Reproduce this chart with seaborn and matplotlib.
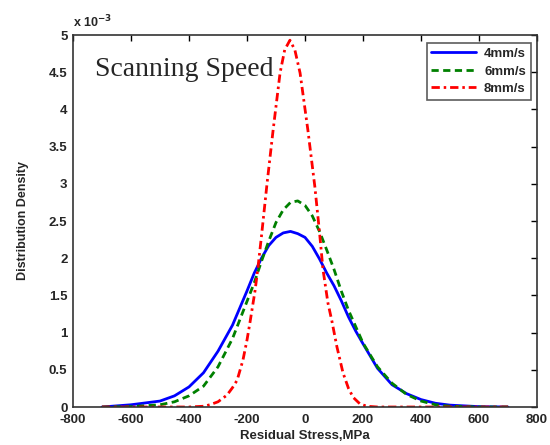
import matplotlib
matplotlib.use("Agg")
import matplotlib.pyplot as plt
import seaborn as sns
import pandas as pd

# ---- data (density values in units of 1e-3) ----
x_4 = [-700, -600, -500, -450, -400, -350, -300, -250, -200, -175, -150, -125, -100, -75, -50, -25,
       0, 25, 50, 75, 100, 125, 150, 175, 200, 250, 300, 350, 400, 450, 500, 600, 700]
y_4 = [0.0, 0.03, 0.08, 0.15, 0.27, 0.46, 0.75, 1.10, 1.56, 1.80, 2.00, 2.17, 2.28, 2.34, 2.36, 2.33,
       2.28, 2.16, 1.99, 1.80, 1.63, 1.43, 1.21, 1.02, 0.85, 0.52, 0.30, 0.18, 0.10, 0.05, 0.025, 0.005, 0.0]

x_6 = [-700, -600, -500, -450, -400, -350, -300, -250, -200, -175, -150, -125, -100, -75, -50, -25,
       0, 25, 50, 75, 100, 125, 150, 175, 200, 250, 300, 350, 400, 450, 500, 600, 700]
y_6 = [0.0, 0.005, 0.03, 0.07, 0.15, 0.28, 0.54, 0.92, 1.42, 1.67, 1.96, 2.23, 2.48, 2.65, 2.75, 2.77,
       2.71, 2.57, 2.36, 2.11, 1.85, 1.56, 1.30, 1.08, 0.86, 0.54, 0.32, 0.17, 0.08, 0.03, 0.01, 0.0, 0.0]

x_8 = [-700, -400, -350, -328, -300, -269, -250, -234, -214, -200, -190, -172, -162, -150, -131, -110,
       -86, -70, -52, -35, -17, 10, 34, 50, 62, 79, 93, 110, 131, 150, 166, 190, 214, 250, 700]
y_8 = [0.0, 0.0, 0.01, 0.03, 0.07, 0.16, 0.26, 0.36, 0.63, 0.90, 1.13, 1.57, 1.88, 2.30, 3.00, 3.72,
       4.49, 4.80, 4.93, 4.80, 4.49, 3.72, 2.96, 2.35, 1.85, 1.40, 1.15, 0.81, 0.46, 0.25, 0.13, 0.04, 0.01, 0.0, 0.0]

labels = ["4mm/s", "6mm/s", "8mm/s"]
x_ticks = [-800, -600, -400, -200, 0, 200, 400, 600, 800]
y_ticks = [0, 0.5, 1, 1.5, 2, 2.5, 3, 3.5, 4, 4.5, 5]
y_tick_labels = ["0", "0.5", "1", "1.5", "2", "2.5", "3", "3.5", "4", "4.5", "5"]

sns.set_style("white")
plt.rcParams["font.family"] = ["Liberation Sans", "DejaVu Sans"]

fig = plt.figure(figsize=(5.5, 4.45), dpi=100)
ax = fig.add_axes([73 / 550, 38 / 445, 464 / 550, 372 / 445])

styles = [("#0000ff", (None, None)), ("#008000", (2.6, 1.6)), ("#ff0000", (3.0, 1.4, 0.9, 1.4))]
for xs, ys, lab, (c, dash) in zip([x_4, x_6, x_8], [y_4, y_6, y_8], labels, styles):
    df = pd.DataFrame({"x": xs, "y": ys})
    sns.lineplot(data=df, x="x", y="y", ax=ax, color=c, linewidth=2,
                 label=lab, sort=False, estimator=None)
    if dash[0] is not None:
        ax.lines[-1].set_dashes(dash)

ax.set_xlim(-800, 800)
ax.set_ylim(0, 5)
ax.set_xticks(x_ticks)
ax.set_xticklabels([str(t) for t in x_ticks])
ax.set_yticks(y_ticks)
ax.set_yticklabels(y_tick_labels)
for lbl in ax.get_xticklabels() + ax.get_yticklabels():
    lbl.set_fontweight("bold")
    lbl.set_fontsize(9.5)
ax.tick_params(direction="in", top=True, right=True, length=4, width=1, color="black")
ax.tick_params(axis="x", pad=5)
ax.tick_params(axis="y", pad=4)
for s in ax.spines.values():
    s.set_color("#333333")
    s.set_linewidth(1.2)

ax.set_xlabel("Residual Stress,MPa", fontsize=9.5, fontweight="bold", labelpad=3)
ax.set_ylabel("Distribution Density", fontsize=9, fontweight="bold", labelpad=14)

ax.text(0.0, 1.012, r"x 10$^{\mathbf{-3}}$", transform=ax.transAxes, fontsize=9,
        fontweight="bold", ha="left", va="bottom")
fig.text(95 / 550, 1 - 76 / 445, "Scanning Speed", family=["Liberation Serif", "DejaVu Serif"],
         fontsize=20, ha="left", va="baseline")

leg = ax.legend(loc="upper right", bbox_to_anchor=(0.986, 0.978), frameon=True, fancybox=False,
                edgecolor="#333333", prop={"weight": "bold", "size": 9.5}, handlelength=3.4,
                borderpad=0.35, labelspacing=0.4, handletextpad=0.6, borderaxespad=0)
leg.get_frame().set_linewidth(1.2)

fig.savefig("out.png", dpi=100)
